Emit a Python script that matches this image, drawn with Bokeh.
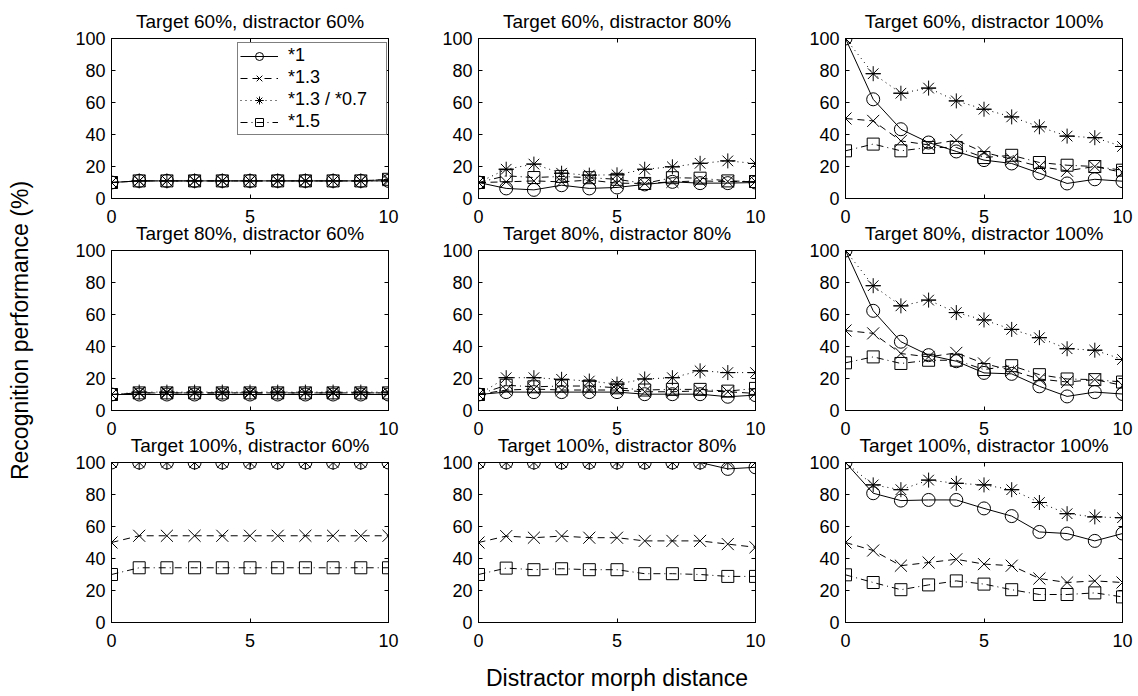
import math
from bokeh.plotting import figure
from bokeh.models import Range1d, FixedTicker, LinearAxis, Legend, LegendItem, Label
from bokeh.layouts import row, column
from bokeh.embed import file_html
from bokeh.resources import INLINE

# ---------------- data ----------------
morph_distance = [0, 1, 2, 3, 4, 5, 6, 7, 8, 9, 10]
series_names = ["*1", "*1.3", "*1.3 / *0.7", "*1.5"]
x_ticks = [0, 5, 10]
y_ticks = [0, 20, 40, 60, 80, 100]
x_label = "Distractor morph distance"
y_label = "Recognition performance (%)"

t60d60_title = "Target 60%, distractor 60%"
t60d60_s1 = [10, 11, 11, 11, 11, 11, 11, 11, 11, 11, 11]
t60d60_s13 = [10, 11, 11, 11, 11, 11, 11, 11, 11, 11, 12]
t60d60_s1307 = [10, 11, 11, 11, 11, 11, 11, 11, 11, 11, 11]
t60d60_s15 = [10, 11, 11, 11, 11, 11, 11, 11, 11, 11, 12]

t60d80_title = "Target 60%, distractor 80%"
t60d80_s1 = [10, 6.3, 5.4, 8.3, 6.3, 6.9, 8.8, 10.4, 9.6, 9.6, 10]
t60d80_s13 = [10, 10.4, 11, 10.4, 11.5, 9.6, 9.4, 10.4, 11, 10.6, 10.6]
t60d80_s1307 = [10, 18.3, 21.5, 15.8, 14.6, 14.8, 18.3, 19.8, 22, 23.5, 21.9]
t60d80_s15 = [10, 14.2, 13.1, 13.8, 13, 12, 9.4, 13, 12.7, 11, 10.6]

t60d100_title = "Target 60%, distractor 100%"
t60d100_s1 = [100, 62, 43.3, 35, 29.4, 24, 21.9, 15.8, 9.4, 12, 10.8]
t60d100_s13 = [50, 48.5, 36, 33.5, 36.5, 28.8, 24.6, 20, 17.3, 20, 16.3]
t60d100_s1307 = [100, 78, 65.8, 69, 61, 55.8, 51, 44.8, 39, 38, 32.5]
t60d100_s15 = [29.8, 34, 29.8, 31.9, 31.9, 25.6, 27, 22.5, 20.8, 20, 17.7]

t80d60_title = "Target 80%, distractor 60%"
t80d60_s1 = [10, 10, 10, 10, 10, 10, 10, 10, 10, 10, 10]
t80d60_s13 = [10, 11, 11, 11, 11, 11, 11, 11, 11, 11, 11]
t80d60_s1307 = [10, 11.5, 11.5, 11.5, 11.5, 11.5, 11.5, 11.5, 11.5, 11.5, 11.5]
t80d60_s15 = [10, 11, 11, 11, 11, 11, 11, 11, 11, 11, 11]

t80d80_title = "Target 80%, distractor 80%"
t80d80_s1 = [10, 11.5, 11.5, 11.5, 11.5, 11.5, 10.2, 10.2, 10.2, 8.6, 9.6]
t80d80_s13 = [10, 12.8, 13.4, 12.8, 12.8, 12.8, 11.7, 11.7, 12.3, 11.7, 10.7]
t80d80_s1307 = [10, 20.5, 20.5, 19.5, 18.4, 16.5, 19.7, 20.5, 24.8, 23.7, 23.7]
t80d80_s15 = [10, 15.8, 14.8, 15.3, 15.3, 14.2, 12.8, 13.2, 13.2, 12.1, 13.8]

t80d100_title = "Target 80%, distractor 100%"
t80d100_s1 = [100, 62.3, 43, 34.6, 30.8, 23.5, 22.9, 15.1, 8.8, 11.5, 10.3]
t80d100_s13 = [50, 48.2, 35.6, 33.5, 36, 29.4, 25, 19.7, 17.8, 19.3, 15.7]
t80d100_s1307 = [100, 78, 65.4, 69, 61.2, 56.6, 50.7, 45.5, 38.6, 37.7, 31.9]
t80d100_s15 = [29.8, 33.5, 29.4, 31.4, 31.4, 25.6, 28, 22.4, 19.7, 19.3, 17.8]

t100d60_title = "Target 100%, distractor 60%"
t100d60_s1 = [100, 100, 100, 100, 100, 100, 100, 100, 100, 100, 100]
t100d60_s13 = [50, 54.2, 54.2, 54.2, 54.2, 54.2, 54.2, 54.2, 54.2, 54.2, 54.2]
t100d60_s1307 = [100, 100, 100, 100, 100, 100, 100, 100, 100, 100, 100]
t100d60_s15 = [30, 34.2, 34.2, 34.2, 34.2, 34.2, 34.2, 34.2, 34.2, 34.2, 34.2]

t100d80_title = "Target 100%, distractor 80%"
t100d80_s1 = [100, 100, 100, 100, 100, 100, 100, 100, 100, 96, 97]
t100d80_s13 = [50, 54, 53, 54, 53, 53, 51, 51, 51, 49, 47]
t100d80_s1307 = [100, 100, 100, 100, 100, 100, 100, 100, 100, 100, 100]
t100d80_s15 = [30, 34, 33, 33.6, 33, 33, 30.5, 30.5, 30, 28.8, 28.8]

t100d100_title = "Target 100%, distractor 100%"
t100d100_s1 = [100, 80.8, 76.2, 76.6, 76.6, 71.3, 66.5, 56.6, 55.6, 51, 55.6]
t100d100_s13 = [50, 45, 35.5, 37.5, 39.5, 36.5, 35.5, 27.5, 25, 26, 25]
t100d100_s1307 = [100, 86, 83, 89, 87, 86, 83, 75, 68, 66, 65.5]
t100d100_s15 = [29.8, 25, 20.5, 23.5, 26, 24, 20.5, 17.5, 17.5, 18.5, 16]

# ---------------- styling ----------------
FONT = "Liberation Sans"
TICK_FONT = "18px"
TITLE_FONT = "19px"
LABEL_FONT = "23px"
FRAME_W, FRAME_H = 277, 160
STRIP_W = 45
TOP_B, BOT_B, LAST_BOT_B = 38, 40, 74
ROW_OVERLAP = TOP_B + BOT_B - 52

# (line_dash, markers, size)
STYLES = [
    ("solid", ["circle"], 13),
    ("7 5", ["x"], 17),
    ("1 4", ["asterisk", "dash"], 15),
    ("7 4 1 4", ["square"], 12),
]


def style_axis(ax, hide_labels=False):
    ax.major_tick_in = 4
    ax.major_tick_out = 0
    ax.minor_tick_in = 0
    ax.minor_tick_out = 0
    ax.axis_line_color = "black"
    ax.axis_line_width = 1
    ax.major_tick_line_color = "black"
    ax.major_label_text_font = FONT
    ax.major_label_text_font_size = TICK_FONT
    ax.major_label_text_color = "black"
    ax.major_label_standoff = 6
    if hide_labels:
        ax.major_label_overrides = {t: "" for t in (x_ticks + y_ticks)}
        ax.major_label_standoff = 0


def make_panel(title, data, width, height, bl, br, bt, bb, legend=False, xlabel=None):
    p = figure(width=width, height=height, toolbar_location=None, output_backend="svg",
               x_range=Range1d(0, 10), y_range=Range1d(0, 100),
               min_border_left=bl, min_border_right=br,
               min_border_top=bt, min_border_bottom=bb)
    p.title.text = title
    p.title.align = "center"
    p.title.text_font = FONT
    p.title.text_font_size = TITLE_FONT
    p.title.text_font_style = "normal"
    p.title.text_color = "black"
    p.title.standoff = 14
    p.xgrid.visible = False
    p.ygrid.visible = False
    p.outline_line_color = "black"
    p.outline_line_width = 1
    p.outline_line_alpha = 1
    p.border_fill_color = None
    p.background_fill_color = "white"

    p.xaxis.ticker = FixedTicker(ticks=x_ticks)
    p.yaxis.ticker = FixedTicker(ticks=y_ticks)
    for ax in list(p.xaxis) + list(p.yaxis):
        style_axis(ax)
    p.xaxis.major_label_standoff = 11
    if xlabel:
        ax = p.below[0]
        ax.axis_label = xlabel
        ax.axis_label_text_font = FONT
        ax.axis_label_text_font_size = LABEL_FONT
        ax.axis_label_text_font_style = "normal"
        ax.axis_label_text_color = "black"
        ax.axis_label_standoff = 15

    top = LinearAxis(ticker=FixedTicker(ticks=x_ticks))
    right = LinearAxis(ticker=FixedTicker(ticks=y_ticks))
    style_axis(top, hide_labels=True)
    style_axis(right, hide_labels=True)
    p.add_layout(top, "above")
    p.add_layout(right, "right")

    items = []
    for name, ys, (dash, markers, size) in zip(series_names, data, STYLES):
        rs = [p.line(morph_distance, ys, line_color="black", line_width=1, line_dash=dash)]
        for m in markers:
            rs.append(p.scatter(morph_distance, ys, marker=m, size=size,
                                line_color="black", line_width=1, fill_color=None))
        items.append(LegendItem(label=name, renderers=rs))

    if legend:
        lg = Legend(items=items, location=(126, 63))
        lg.label_text_font = FONT
        lg.label_text_font_size = TICK_FONT
        lg.label_text_color = "black"
        lg.border_line_color = "black"
        lg.border_line_width = 1
        lg.background_fill_color = "white"
        lg.background_fill_alpha = 1
        lg.padding = 2
        lg.spacing = 1
        lg.margin = 0
        lg.glyph_width = 38
        lg.glyph_height = 20
        lg.label_height = 20
        lg.label_width = 96
        lg.label_standoff = 10
        p.add_layout(lg, "center")
    return p


panels = [
    [(t60d60_title, [t60d60_s1, t60d60_s13, t60d60_s1307, t60d60_s15]),
     (t60d80_title, [t60d80_s1, t60d80_s13, t60d80_s1307, t60d80_s15]),
     (t60d100_title, [t60d100_s1, t60d100_s13, t60d100_s1307, t60d100_s15])],
    [(t80d60_title, [t80d60_s1, t80d60_s13, t80d60_s1307, t80d60_s15]),
     (t80d80_title, [t80d80_s1, t80d80_s13, t80d80_s1307, t80d80_s15]),
     (t80d100_title, [t80d100_s1, t80d100_s13, t80d100_s1307, t80d100_s15])],
    [(t100d60_title, [t100d60_s1, t100d60_s13, t100d60_s1307, t100d60_s15]),
     (t100d80_title, [t100d80_s1, t100d80_s13, t100d80_s1307, t100d80_s15]),
     (t100d100_title, [t100d100_s1, t100d100_s13, t100d100_s1307, t100d100_s15])],
]

col_borders = [(111 - STRIP_W, 45), (45, 45), (45, 16)]
row_borders = [(TOP_B, BOT_B), (TOP_B, BOT_B), (TOP_B, LAST_BOT_B)]

rows = []
for ri, prow in enumerate(panels):
    figs = []
    for ci, (title, data) in enumerate(prow):
        bl, br = col_borders[ci]
        bt, bb = row_borders[ri]
        figs.append(make_panel(title, data, bl + FRAME_W + br, bt + FRAME_H + bb,
                               bl, br, bt, bb,
                               legend=(ri == 0 and ci == 0),
                               xlabel=(x_label if (ri == 2 and ci == 1) else None)))
    if ri == 0:
        rows.append(row(*figs))
    else:
        rows.append(row(*figs, margin=(-ROW_OVERLAP, 0, 0, 0)))

total_h = sum(t + FRAME_H + b for t, b in row_borders) - 2 * ROW_OVERLAP
strip = figure(width=STRIP_W, height=total_h, toolbar_location=None, output_backend="svg",
               x_range=Range1d(0, STRIP_W), y_range=Range1d(0, total_h),
               x_axis_type=None, y_axis_type=None, min_border=0)
strip.xgrid.visible = False
strip.ygrid.visible = False
strip.outline_line_color = None
strip.add_layout(Label(x=19, y=total_h - 330, text=y_label, angle=math.pi / 2,
                       text_align="center", text_baseline="middle",
                       text_font=FONT, text_font_size=LABEL_FONT, text_color="black"))

p = row(strip, column(*rows))

with open("out.html", "w") as f:
    f.write(file_html(p, INLINE))
